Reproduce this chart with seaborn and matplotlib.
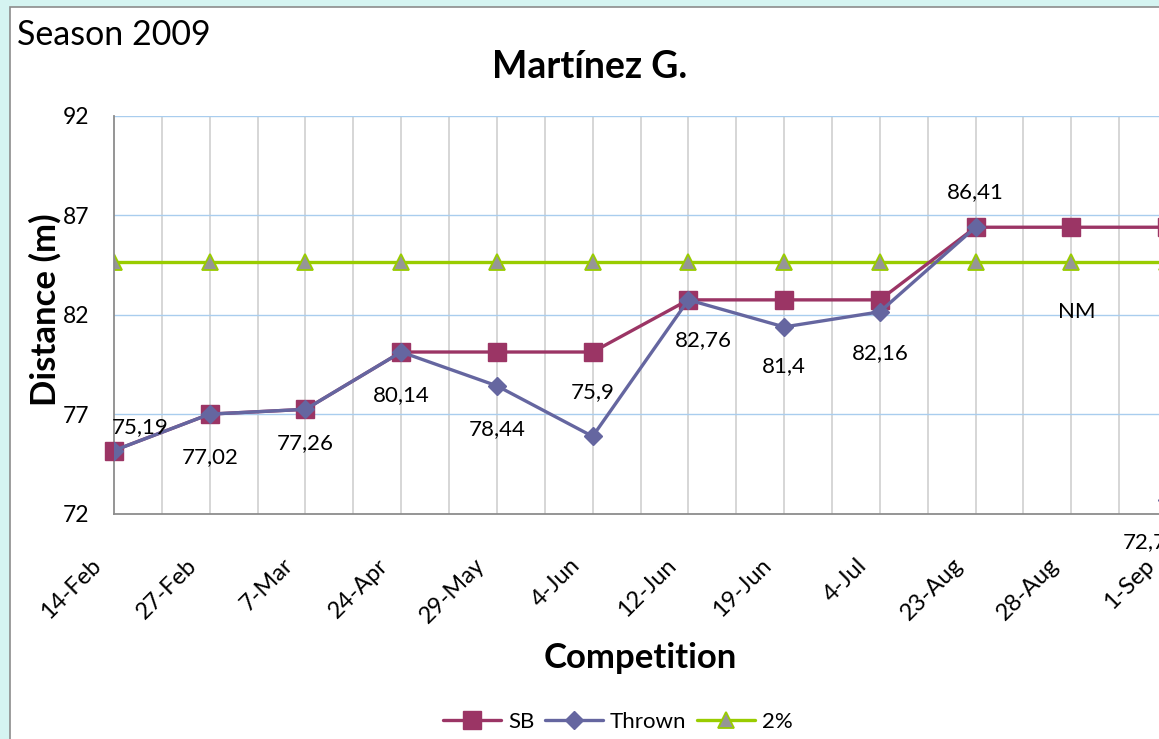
import numpy as np
import pandas as pd
import seaborn as sns
import matplotlib.pyplot as plt
from matplotlib.patches import Rectangle
from matplotlib.transforms import ScaledTranslation

# competition dates and distances (m)
dates = ['14-Feb', '27-Feb', '7-Mar', '24-Apr', '29-May', '4-Jun',
         '12-Jun', '19-Jun', '4-Jul', '23-Aug', '28-Aug', '1-Sep']
sb = [75.19, 77.02, 77.26, 80.14, 80.14, 80.14, 82.76, 82.76, 82.76, 86.41, 86.41, 86.41]
thrown = [75.19, 77.02, 77.26, 80.14, 78.44, 75.9, 82.76, 81.4, 82.16, 86.41, np.nan, 72.7]
two_pct = [84.68] * 12
thrown_labels = ['75,19', '77,02', '77,26', '80,14', '78,44', '75,9',
                 '82,76', '81,4', '82,16', '86,41', 'NM', '72,7']

# label offsets in points (dx, dy) from each point
lbl_off = [(19, 17), (0, -31), (0, -24), (0, -31), (0, -31), (0, 32),
           (11, -29), (0, -28), (0, -30), (0, 25), (4, -36), (-16, -30)]

sns.set_style('white')
plt.rcParams['font.family'] = ['Lato', 'DejaVu Sans']
plt.rcParams['text.color'] = 'black'
plt.rcParams['xtick.color'] = 'black'
plt.rcParams['ytick.color'] = 'black'

fig = plt.figure(figsize=(11.59, 7.39), dpi=100)
fig.patch.set_facecolor('#d5f4f1')
W, H = 1159, 739
fig.patches.append(Rectangle((10 / W, -0.1), 1.2, 1 - 7 / H + 0.1, transform=fig.transFigure,
                             facecolor='white', edgecolor='#8c8c8c', linewidth=1.2, zorder=-5))

# plot area in pixel coords, right edge runs past the picture
x0, x1, ytop, ybot = 114, 1167, 116, 514
ax = fig.add_axes([x0 / W, 1 - ybot / H, (x1 - x0) / W, (ybot - ytop) / H])
ax.set_facecolor('none')

x = np.arange(len(dates))
df = pd.DataFrame({'x': x, 'SB': sb, 'Thrown': thrown, '2%': two_pct})

for xv in np.arange(0.5, 11.5, 0.5):
    ax.axvline(xv, color='#cccccc', lw=1.1, zorder=0)
for yv in [77, 82, 87, 92]:
    ax.axhline(yv, color='#a9cdee', lw=1.0, zorder=0)

ax.plot(df['x'], df['SB'], color='#9b3565', lw=2.4, marker='s', ms=12.5, label='SB', zorder=3, clip_on=False)
ax.plot(df['x'], df['Thrown'], color='#6566a0', lw=2.4, marker='D', ms=9, label='Thrown', zorder=4)
ax.plot(df['x'], df['2%'], color='#99cc00', lw=2.4, marker='^', ms=12, markerfacecolor='#969696',
        markeredgecolor='#99cc00', markeredgewidth=1.3, label='2%', zorder=2)

for xi, yi, t, (dx, dy) in zip(x, thrown, thrown_labels, lbl_off):
    yy = two_pct[xi] if np.isnan(yi) else yi
    ax.annotate(t, (xi, yy), xytext=(dx, dy), textcoords='offset points',
                ha='center', va='center', fontsize=16, annotation_clip=False, zorder=5)

ax.set_xlim(0, 11)
ax.set_ylim(72, 92)
ax.set_yticks([72, 77, 82, 87, 92])
ax.set_xticks(x)
ax.set_xticklabels(dates, rotation=45, ha='right', va='center', rotation_mode='anchor', fontsize=17)
ax.tick_params(axis='y', labelsize=16.5, length=0, pad=18)
ax.tick_params(axis='x', length=0, pad=0)
shift = ScaledTranslation(-0.16, -0.48, fig.dpi_scale_trans)
for lab in ax.get_xticklabels():
    lab.set_transform(lab.get_transform() + shift)
for s in ['top', 'right']:
    ax.spines[s].set_visible(False)
for s in ['left', 'bottom']:
    ax.spines[s].set_color('#8c8c8c')
    ax.spines[s].set_linewidth(1.3)

fig.text(17 / W, 1 - 35 / H, 'Season 2009', fontsize=24.5, va='center', ha='left')
fig.text(590 / W, 1 - 67 / H, 'Martínez G.', fontsize=27, fontweight='bold', ha='center', va='center')
fig.text(45 / W, 1 - 310 / H, 'Distance (m)', fontsize=25, fontweight='bold', rotation=90,
         ha='center', va='center')
fig.text(640 / W, 1 - 658 / H, 'Competition', fontsize=25, fontweight='bold', ha='center', va='center')

fig.legend(loc='center', bbox_to_anchor=(618 / W, 1 - 722 / H), ncol=3, frameon=False,
           fontsize=16, handlelength=2.6, columnspacing=0.5, handletextpad=0.3)

fig.savefig('out.png', dpi=100)
